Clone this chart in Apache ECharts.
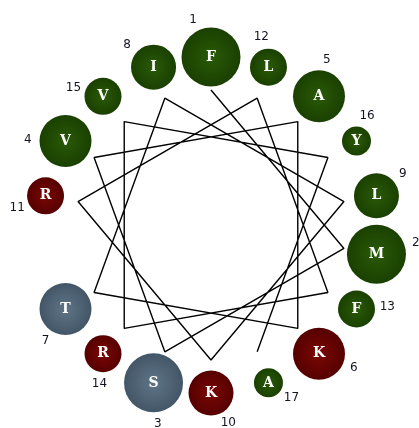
<!DOCTYPE html>
<html>
<head>
<meta charset="utf-8">
<style>
  html, body { margin: 0; padding: 0; background: #fff; }
  #chart { width: 419px; height: 428px; }
</style>
<script src="https://cdn.jsdelivr.net/npm/echarts@6/dist/echarts.min.js"></script>
</head>
<body>
<div id="chart"></div>
<script>
// Helical wheel of a 17-residue peptide (100 degrees per residue)
const residues = ['F','M','S','V','A','K','T','I','L','K','R','L','F','R','V','Y','A'];
const positions = [1,2,3,4,5,6,7,8,9,10,11,12,13,14,15,16,17];
const hydrophobic = ['F','M','V','A','I','L','Y','W','C','G','P'];
const charged = ['K','R','D','E','H'];
const polar = ['S','T','N','Q'];

const DEG_PER_RESIDUE = 100;
const WHEEL_R = 168;          // px, radius of the residue ring
const STAR_R = 135;           // px, radius where the backbone path turns
const AXIS_MAX = 1.4;         // radius axis spans past the ring to hold the numbers

// circle sizes shrink along the helix
function diameter(pos) {
  if (pos <= 3) return 59;
  if (pos <= 7) return 52;
  if (pos <= 10) return 45;
  if (pos <= 15) return 37;
  return 29;
}

function gradient(inner, outer) {
  return { type: 'radial', x: 0.5, y: 0.5, r: 0.5,
    colorStops: [{ offset: 0, color: inner }, { offset: 1, color: outer }] };
}
function fillFor(aa) {
  if (charged.includes(aa)) return gradient('#7a0806', '#560000');
  if (polar.includes(aa)) return gradient('#5f7586', '#435668');
  return gradient('#2a5a08', '#1a4000');
}

const angleOf = pos => ((pos - 1) * DEG_PER_RESIDUE) % 360;

const circleData = positions.map((p, i) => ({
  value: [1, angleOf(p)],
  symbolSize: diameter(p),
  itemStyle: { color: fillFor(residues[i]), opacity: 1 },
  label: { formatter: residues[i] }
}));

const pathData = positions.map(p => [STAR_R / WHEEL_R, angleOf(p)]);

const numberData = positions.map(p => ({
  value: [(WHEEL_R + diameter(p) / 2 + 8) / WHEEL_R, (angleOf(p) - 5 + 360) % 360],
  label: { formatter: String(p) }
}));

const chart = echarts.init(document.getElementById('chart'), null, { renderer: 'canvas' });
chart.setOption({
  animation: false,
  backgroundColor: '#ffffff',
  polar: { center: [211, 225], radius: WHEEL_R * AXIS_MAX },
  angleAxis: {
    type: 'value', min: 0, max: 360, startAngle: 90, clockwise: true,
    show: false, axisLine: { show: false }, splitLine: { show: false }
  },
  radiusAxis: {
    type: 'value', min: 0, max: AXIS_MAX, show: false,
    axisLine: { show: false }, splitLine: { show: false }
  },
  series: [
    {
      type: 'line', coordinateSystem: 'polar', data: pathData,
      symbol: 'none', z: 1,
      lineStyle: { color: '#000', width: 1.4 }
    },
    {
      type: 'scatter', coordinateSystem: 'polar', data: circleData,
      z: 3,
      label: {
        show: true, position: 'inside', color: '#ffffff',
        fontFamily: 'DejaVu Serif', fontWeight: 'bold', fontSize: 14
      },
      emphasis: { disabled: true }
    },
    {
      type: 'scatter', coordinateSystem: 'polar', data: numberData,
      symbol: 'circle', symbolSize: 1, z: 4, clip: false,
      itemStyle: { color: 'rgba(255,255,255,0)', opacity: 1 },
      label: {
        show: true, position: 'inside', color: '#141424',
        fontFamily: 'DejaVu Sans', fontSize: 12
      },
      labelLayout: { hideOverlap: false },
      emphasis: { disabled: true }
    }
  ]
});
</script>
</body>
</html>
